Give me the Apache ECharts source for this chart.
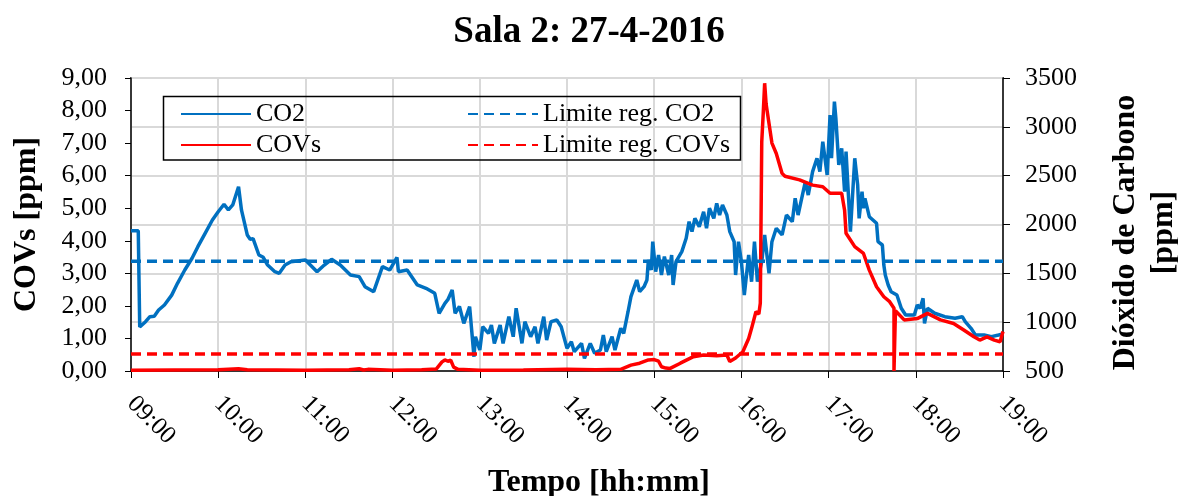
<!DOCTYPE html>
<html>
<head>
<meta charset="utf-8">
<title>Sala 2: 27-4-2016</title>
<script src="https://cdn.jsdelivr.net/npm/echarts@6/dist/echarts.min.js"></script>
<style>
  html, body { margin: 0; padding: 0; background: #fff; }
  #chart { width: 1178px; height: 496px; }
</style>
</head>
<body>
<div id="chart"></div>
<script>
// CO2 [ppm]
var co2Times = [
  '09:00', '09:05', '09:06', '09:10', '09:13', '09:16', '09:19', '09:23', '09:28', '09:32',
  '09:37', '09:42', '09:46', '09:51', '09:56', '10:00', '10:04', '10:07', '10:10', '10:14',
  '10:16', '10:20', '10:22', '10:24', '10:28', '10:31', '10:34', '10:39', '10:42', '10:46',
  '10:50', '11:00', '11:08', '11:13', '11:18', '11:24', '11:31', '11:37', '11:41', '11:47',
  '11:53', '11:58', '12:03', '12:04', '12:10', '12:17', '12:23', '12:29', '12:32', '12:36',
  '12:38', '12:41', '12:43', '12:46', '12:49', '12:53', '12:56', '12:57', '13:00', '13:02',
  '13:06', '13:08', '13:10', '13:14', '13:16', '13:20', '13:23', '13:25', '13:29', '13:31',
  '13:35', '13:38', '13:40', '13:44', '13:46', '13:49', '13:53', '13:56', '14:00', '14:03',
  '14:05', '14:10', '14:12', '14:16', '14:19', '14:23', '14:25', '14:27', '14:31', '14:33',
  '14:37', '14:39', '14:42', '14:44', '14:48', '14:50', '14:53', '14:55', '14:56', '14:58',
  '14:59', '15:01', '15:03', '15:05', '15:07', '15:10', '15:12', '15:13', '15:15', '15:19',
  '15:22', '15:24', '15:26', '15:28', '15:31', '15:34', '15:36', '15:38', '15:41', '15:43',
  '15:45', '15:47', '15:50', '15:52', '15:55', '15:56', '15:58', '16:00', '16:02', '16:05',
  '16:07', '16:09', '16:11', '16:14', '16:16', '16:19', '16:21', '16:24', '16:28', '16:31',
  '16:35', '16:37', '16:39', '16:41', '16:44', '16:46', '16:49', '16:52', '16:54', '16:56',
  '16:59', '17:01', '17:02', '17:04', '17:05', '17:07', '17:09', '17:11', '17:12', '17:15',
  '17:18', '17:20', '17:21', '17:23', '17:24', '17:25', '17:28', '17:33', '17:34', '17:37',
  '17:38', '17:39', '17:41', '17:43', '17:47', '17:50', '17:53', '17:59', '18:01', '18:03',
  '18:05', '18:06', '18:08', '18:13', '18:20', '18:27', '18:32', '18:34', '18:38', '18:41',
  '18:47', '18:52', '18:57', '19:00'
];
var co2Values = [
  1935, 1935, 950, 1005, 1056, 1060, 1124, 1176, 1277, 1398,
  1534, 1654, 1773, 1910, 2046, 2131, 2207, 2149, 2200, 2387,
  2149, 1893, 1849, 1855, 1688, 1664, 1585, 1517, 1500, 1585,
  1619, 1637, 1517, 1585, 1644, 1585, 1483, 1466, 1363, 1312,
  1568, 1534, 1664, 1517, 1534, 1381, 1347, 1296, 1091, 1193,
  1230, 1329, 1091, 1160, 988, 1159, 646, 851, 715, 953,
  886, 971, 783, 971, 783, 1056, 851, 1142, 783, 1005,
  851, 953, 783, 1056, 817, 1005, 1022, 953, 732, 800,
  698, 783, 630, 783, 681, 715, 869, 698, 851, 715,
  937, 886, 1107, 1261, 1432, 1312, 1363, 1432, 1637, 1534,
  1824, 1517, 1688, 1483, 1671, 1483, 1688, 1381, 1619, 1722,
  1859, 2029, 1927, 2063, 1978, 2131, 1961, 2166, 2063, 2217,
  2097, 2200, 2097, 1927, 1824, 1483, 1824, 1619, 1278, 1688,
  1414, 1824, 1414, 1619, 1893, 1500, 1824, 1961, 1893, 2097,
  2029, 2268, 2097, 2234, 2439, 2302, 2541, 2678, 2541, 2848,
  2507, 3121, 2678, 3258, 3087, 2610, 2780, 2337, 2746, 1927,
  2678, 2405, 2063, 2337, 2166, 2268, 2080, 2012, 1824, 1790,
  1585, 1483, 1381, 1312, 1278, 1142, 1073, 1073, 1176, 1142,
  1244, 988, 1142, 1091, 1056, 1040, 1056, 1005, 937, 869,
  869, 852, 869, 880
];

// COVs [ppm]
var covTimes = [
  '09:00', '09:30', '10:00', '10:14', '10:20', '10:40', '11:00', '11:30', '11:37', '11:40',
  '11:43', '12:00', '12:20', '12:30', '12:34', '12:36', '12:38', '12:40', '12:42', '12:45',
  '13:00', '13:30', '14:00', '14:20', '14:37', '14:44', '14:50', '14:56', '15:00', '15:03',
  '15:05', '15:08', '15:11', '15:18', '15:27', '15:34', '15:43', '15:50', '15:52', '15:56',
  '16:01', '16:05', '16:07', '16:10', '16:12', '16:13', '16:14', '16:15', '16:16', '16:17',
  '16:21', '16:24', '16:28', '16:30', '16:40', '16:49', '16:56', '17:01', '17:09', '17:11',
  '17:12', '17:18', '17:24', '17:28', '17:33', '17:38', '17:42', '17:45', '17:45', '17:46',
  '17:52', '18:01', '18:08', '18:17', '18:26', '18:33', '18:40', '18:44', '18:49', '18:54',
  '18:58', '19:00'
];
var covValues = [
  0.02, 0.03, 0.04, 0.07, 0.04, 0.03, 0.02, 0.04, 0.07, 0.03,
  0.05, 0.02, 0.04, 0.06, 0.28, 0.34, 0.30, 0.33, 0.12, 0.05,
  0.02, 0.03, 0.05, 0.04, 0.05, 0.18, 0.24, 0.34, 0.35, 0.30,
  0.13, 0.09, 0.08, 0.24, 0.44, 0.49, 0.47, 0.49, 0.29, 0.40,
  0.59, 1.00, 1.31, 1.82, 1.75, 2.08, 7.04, 7.90, 8.84, 8.20,
  7.00, 6.68, 6.07, 5.98, 5.87, 5.71, 5.66, 5.46, 5.46, 4.94,
  4.23, 3.82, 3.61, 3.10, 2.59, 2.28, 2.13, 1.93, 0.00, 1.85,
  1.57, 1.61, 1.77, 1.57, 1.46, 1.26, 1.05, 0.95, 1.05, 0.95,
  0.90, 1.21
];

// regulatory limits
var co2Limit = 1625
var covLimit = 0.52

var hourTicks = ['09:00', '10:00', '11:00', '12:00', '13:00', '14:00', '15:00', '16:00', '17:00', '18:00', '19:00']

function toHours(t) {
  var p = t.split(':')
  return Number(p[0]) + Number(p[1]) / 60
}

function pairs(times, values) {
  return times.map(function(t, i) { return [toHours(t), values[i]] })
}

var serif = 'Liberation Serif'
var blue = '#0070C0'
var red = '#FF0000'
var tStart = toHours(hourTicks[0])
var tEnd = toHours(hourTicks[hourTicks.length - 1])

var legendBase = {
  orient: 'vertical',
  top: 96,
  itemWidth: 70,
  itemHeight: 26,
  itemGap: 5,
  itemStyle: { opacity: 0 },
  textStyle: { fontFamily: serif, fontSize: 26, color: '#000' }
}

var chart = echarts.init(document.getElementById('chart'))

chart.setOption({
  animation: false,
  backgroundColor: '#fff',
  textStyle: { fontFamily: serif, color: '#000' },
  title: {
    text: 'Sala 2: 27-4-2016',
    left: 'center',
    top: 9,
    textStyle: { fontFamily: serif, fontSize: 37, fontWeight: 'bold', color: '#000' }
  },
  grid: {
    left: 131,
    right: 175,
    top: 78,
    bottom: 125,
    outerBoundsMode: 'none',
    containLabel: false,
    show: true,
    borderColor: '#000',
    borderWidth: 1.5,
    backgroundColor: 'transparent'
  },
  legend: [
    Object.assign({ data: ['CO2', 'COVs'], left: 175 }, legendBase),
    Object.assign({ data: ['Limite reg. CO2', 'Limite reg. COVs'], left: 462 }, legendBase)
  ],
  graphic: [{
    type: 'rect',
    shape: { x: 163.5, y: 96.5, width: 577, height: 63.5 },
    style: { fill: 'none', stroke: '#000', lineWidth: 1.5 },
    z: 10
  }],
  xAxis: {
    type: 'value',
    min: tStart,
    max: tEnd,
    interval: 1,
    name: 'Tempo [hh:mm]',
    nameLocation: 'middle',
    nameGap: 96,
    nameTextStyle: { fontFamily: serif, fontSize: 32, fontWeight: 'bold', color: '#000', padding: [0, 0, 0, 64] },
    axisLine: { onZero: false, lineStyle: { color: '#000', width: 1.5 } },
    axisTick: { show: true, length: 7, lineStyle: { color: '#000' } },
    axisLabel: {
      rotate: -45,
      fontFamily: serif,
      fontSize: 25,
      color: '#000',
      margin: 29,
      formatter: function(v) {
        var h = Math.round(v)
        return (h < 10 ? '0' : '') + h + ':00'
      }
    },
    splitLine: { show: true, lineStyle: { color: '#d9d9d9', width: 2 } }
  },
  yAxis: [{
    type: 'value',
    min: 0,
    max: 9,
    interval: 1,
    name: 'COVs [ppm]',
    nameLocation: 'middle',
    nameRotate: 90,
    nameGap: 88,
    nameTextStyle: { fontFamily: serif, fontSize: 32, fontWeight: 'bold', color: '#000' },
    axisLine: { show: true, lineStyle: { color: '#000', width: 1.5 } },
    axisTick: { show: true, length: 6, lineStyle: { color: '#000' } },
    axisLabel: {
      fontFamily: serif,
      fontSize: 26,
      color: '#000',
      margin: 24,
      formatter: function(v) { return v.toFixed(2).replace('.', ',') }
    },
    splitLine: { show: false }
  }, {
    type: 'value',
    min: 500,
    max: 3500,
    interval: 500,
    position: 'right',
    name: 'Dióxido de Carbono\n[ppm]',
    nameLocation: 'middle',
    nameRotate: 90,
    nameGap: 104,
    nameTextStyle: { fontFamily: serif, fontSize: 32, fontWeight: 'bold', color: '#000', lineHeight: 38, padding: [0, 16, 0, 0] },
    axisLine: { show: true, lineStyle: { color: '#000', width: 1.5 } },
    axisTick: { show: true, length: 7, lineStyle: { color: '#000' } },
    axisLabel: {
      fontFamily: serif,
      fontSize: 26,
      color: '#000',
      margin: 22,
      formatter: function(v) { return String(v) }
    },
    splitLine: { show: true, lineStyle: { color: '#d9d9d9', width: 2 } }
  }],
  series: [{
    name: 'CO2',
    type: 'line',
    yAxisIndex: 1,
    symbol: 'none',
    lineStyle: { color: blue, width: 3.5 },
    itemStyle: { color: blue },
    data: pairs(co2Times, co2Values),
    z: 3
  }, {
    name: 'COVs',
    type: 'line',
    yAxisIndex: 0,
    symbol: 'none',
    lineStyle: { color: red, width: 3.5 },
    itemStyle: { color: red },
    data: pairs(covTimes, covValues),
    z: 4
  }, {
    name: 'Limite reg. CO2',
    type: 'line',
    yAxisIndex: 1,
    symbol: 'none',
    lineStyle: { color: blue, width: 3.5, type: [10, 6] },
    itemStyle: { color: blue },
    data: [[tStart, co2Limit], [tEnd, co2Limit]],
    z: 5
  }, {
    name: 'Limite reg. COVs',
    type: 'line',
    yAxisIndex: 0,
    symbol: 'none',
    lineStyle: { color: red, width: 3.5, type: [10, 6] },
    itemStyle: { color: red },
    data: [[tStart, covLimit], [tEnd, covLimit]],
    z: 5
  }]
})
</script>
</body>
</html>
